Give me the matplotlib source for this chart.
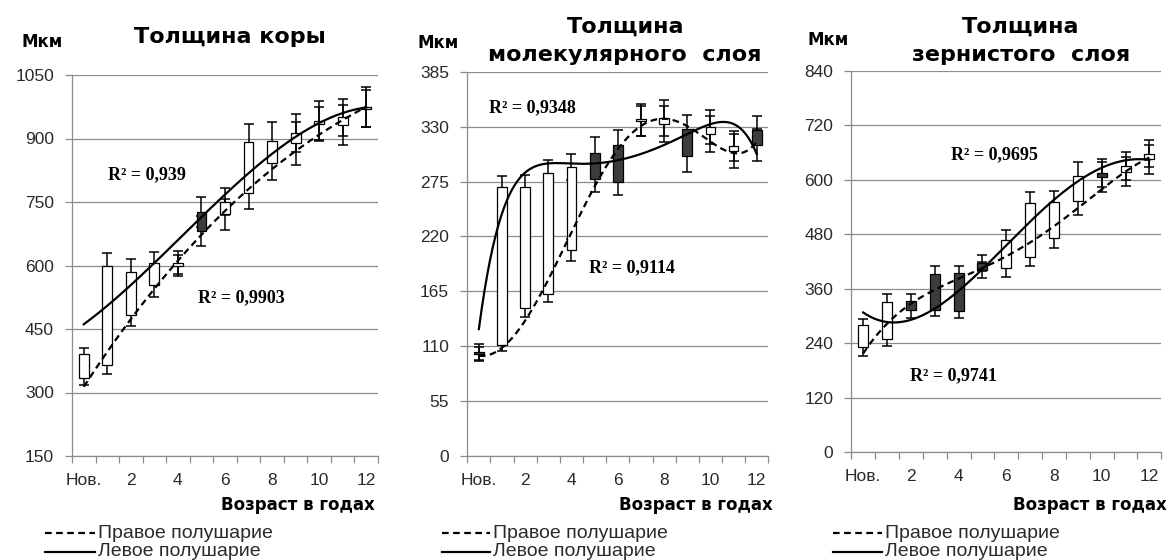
import numpy as np
import matplotlib.pyplot as plt
from matplotlib.lines import Line2D

W, H = 1169, 560

categories = ['Нов.', '1', '2', '3', '4', '5', '6', '7', '8', '9', '10', '11', '12']

# Толщина коры
cortex_right = [334, 365, 482, 554, 600, 726, 721, 772, 841, 889, 935, 932, 970]
cortex_left = [390, 600, 585, 605, 607, 681, 751, 892, 895, 914, 942, 950, 975]
cortex_right_err = [16, 22, 25, 29, 25, 35, 37, 39, 40, 51, 39, 48, 44]
cortex_left_err = [16, 30, 30, 28, 28, 35, 31, 42, 45, 45, 47, 43, 47]
cortex_trend_right = [318, 385, 479, 550, 605, 676, 731, 778, 826, 869, 912, 944, 974]
cortex_trend_left = [459, 507, 558, 605, 656, 711, 770, 822, 863, 904, 936, 959, 974]

# Толщина молекулярного слоя
mol_right = [104, 111, 148, 162, 206, 304, 312, 336, 333, 328, 323, 306, 327]
mol_left = [102, 269, 269, 284, 290, 278, 274, 337, 339, 301, 330, 311, 312]
mol_right_err = [8, 6, 9, 8, 11, 16, 15, 15, 18, 14, 18, 17, 14]
mol_left_err = [7, 12, 13, 13, 13, 14, 13, 16, 18, 16, 17, 15, 16]
mol_trend_right = [101, 106, 139, 175, 226, 268, 306, 332, 341, 328, 313, 306, 314]
mol_trend_left = [126, 248, 278, 293, 296, 295, 295, 299, 313, 324, 333, 331, 303]

# Толщина зернистого слоя
gran_right = [231, 249, 333, 392, 394, 416, 405, 431, 472, 553, 615, 618, 645]
gran_left = [280, 331, 313, 313, 311, 401, 467, 549, 550, 609, 607, 630, 657]
gran_right_err = [19, 16, 15, 19, 17, 18, 20, 22, 23, 31, 30, 32, 32]
gran_left_err = [13, 17, 18, 12, 15, 18, 22, 24, 26, 29, 33, 30, 30]
gran_trend_right = [218, 284, 324, 357, 387, 408, 427, 460, 497, 541, 581, 614, 650]
gran_trend_left = [305, 291, 295, 313, 350, 405, 456, 511, 557, 596, 625, 641, 645]

GRID = '#8c8c8c'
TXT = '#2a2a2a'

fig = plt.figure(figsize=(W / 100, H / 100), dpi=100)
fig.patch.set_facecolor('white')


def px(x, y):
    return x / W, 1 - y / H


def panel(rect, yticks, right, left, right_err, left_err, tr_r, tr_l, deg_r, deg_l):
    ax = fig.add_axes(rect)
    x = np.arange(len(categories))
    for vals, err in ((right, right_err), (left, left_err)):
        ax.errorbar(x, vals, yerr=err, fmt='none', ecolor='black', elinewidth=1.1,
                    capsize=3.6, capthick=1.1, zorder=2)
    r = np.array(right)
    l = np.array(left)
    lo = np.minimum(r, l)
    hi = np.maximum(r, l)
    cols = ['white' if b >= a else '#3c3c3c' for a, b in zip(r, l)]
    ax.bar(x, np.maximum(hi - lo, 1.5), bottom=lo, width=0.42, color=cols,
           edgecolor='black', linewidth=0.9, zorder=3)
    xs = np.linspace(0, len(categories) - 1, 300)
    ax.plot(xs, np.polyval(np.polyfit(x, tr_r, deg_r), xs), color='black', lw=1.6,
            ls=(0, (3, 2)), zorder=4)
    ax.plot(xs, np.polyval(np.polyfit(x, tr_l, deg_l), xs), color='black', lw=1.6, zorder=4)

    ax.set_xlim(-0.5, len(categories) - 0.5)
    ax.set_ylim(yticks[0], yticks[-1])
    ax.set_yticks(yticks)
    ax.set_yticklabels([str(v) for v in yticks])
    ax.set_xticks(np.arange(-0.5, len(categories), 1))
    ax.set_xticklabels([])
    ax.set_xticks(x[::2], minor=True)
    ax.set_xticklabels(categories[::2], minor=True)
    ax.tick_params(axis='x', which='major', length=5, color=GRID, width=0.9)
    ax.tick_params(axis='x', which='minor', length=0, pad=12, labelsize=12.5, labelcolor=TXT)
    ax.tick_params(axis='y', length=5, color=GRID, width=0.9, pad=8, labelsize=12.5,
                   labelcolor=TXT)
    for lab in ax.get_xticklabels(minor=True) + ax.get_yticklabels():
        lab.set_family('Liberation Sans')
    ax.yaxis.grid(True, color=GRID, lw=0.9)
    ax.set_axisbelow(True)
    for s in ('top', 'right'):
        ax.spines[s].set_visible(False)
    for s in ('left', 'bottom'):
        ax.spines[s].set_color(GRID)
        ax.spines[s].set_linewidth(0.9)
    return ax


ax1 = panel([72 / W, 1 - 456 / H, 306 / W, 381 / H], list(range(150, 1051, 150)),
            cortex_right, cortex_left, cortex_right_err, cortex_left_err,
            cortex_trend_right, cortex_trend_left, 3, 3)
ax2 = panel([467.3 / W, 1 - 456 / H, 301 / W, 384.3 / H], list(range(0, 386, 55)),
            mol_right, mol_left, mol_right_err, mol_left_err,
            mol_trend_right, mol_trend_left, 6, 6)
ax3 = panel([851.3 / W, 1 - 452.3 / H, 310 / W, 381.6 / H], list(range(0, 841, 120)),
            gran_right, gran_left, gran_right_err, gran_left_err,
            gran_trend_right, gran_trend_left, 4, 4)

r2kw = dict(family='Liberation Serif', fontweight='bold', fontsize=13, ha='center', va='center')
ax1.text(2.7, 814, 'R² = 0,939', **r2kw)
ax1.text(6.7, 523, 'R² = 0,9903', **r2kw)
ax2.text(2.3, 349, 'R² = 0,9348', **r2kw)
ax2.text(6.6, 189, 'R² = 0,9114', **r2kw)
ax3.text(5.5, 654, 'R² = 0,9695', **r2kw)
ax3.text(3.8, 168, 'R² = 0,9741', **r2kw)

bold = dict(family='DejaVu Sans', fontweight='bold', color='black', ha='center', va='center')
for xm, ym in ((42, 42), (438, 43), (828, 40)):
    fig.text(*px(xm, ym), 'Мкм', fontsize=12, **bold)
fig.text(*px(230, 37), 'Толщина коры', fontsize=16, **bold)
fig.text(*px(626, 27), 'Толщина', fontsize=16, **bold)
fig.text(*px(625, 55), 'молекулярного  слоя', fontsize=16, **bold)
fig.text(*px(1021, 27), 'Толщина', fontsize=16, **bold)
fig.text(*px(1021, 55), 'зернистого  слоя', fontsize=16, **bold)

for xr in (375, 773, 1167):
    fig.text(*px(xr, 505), 'Возраст в годах', fontsize=12, family='DejaVu Sans',
             fontweight='bold', ha='right', va='center')

for x0, x1 in ((45, 95), (442, 490), (833, 882)):
    for yy, ls, label in ((533, (0, (3, 2)), 'Правое полушарие'), (552, '-', 'Левое полушарие')):
        fig.add_artist(Line2D([x0 / W, x1 / W], [1 - yy / H, 1 - yy / H], color='black',
                              lw=1.6, ls=ls, transform=fig.transFigure))
        fig.text(*px(x1 + 3, yy), label, fontsize=14, family='Liberation Sans',
                 color=TXT, ha='left', va='center')

fig.savefig('out.png', dpi=100, facecolor='white')
